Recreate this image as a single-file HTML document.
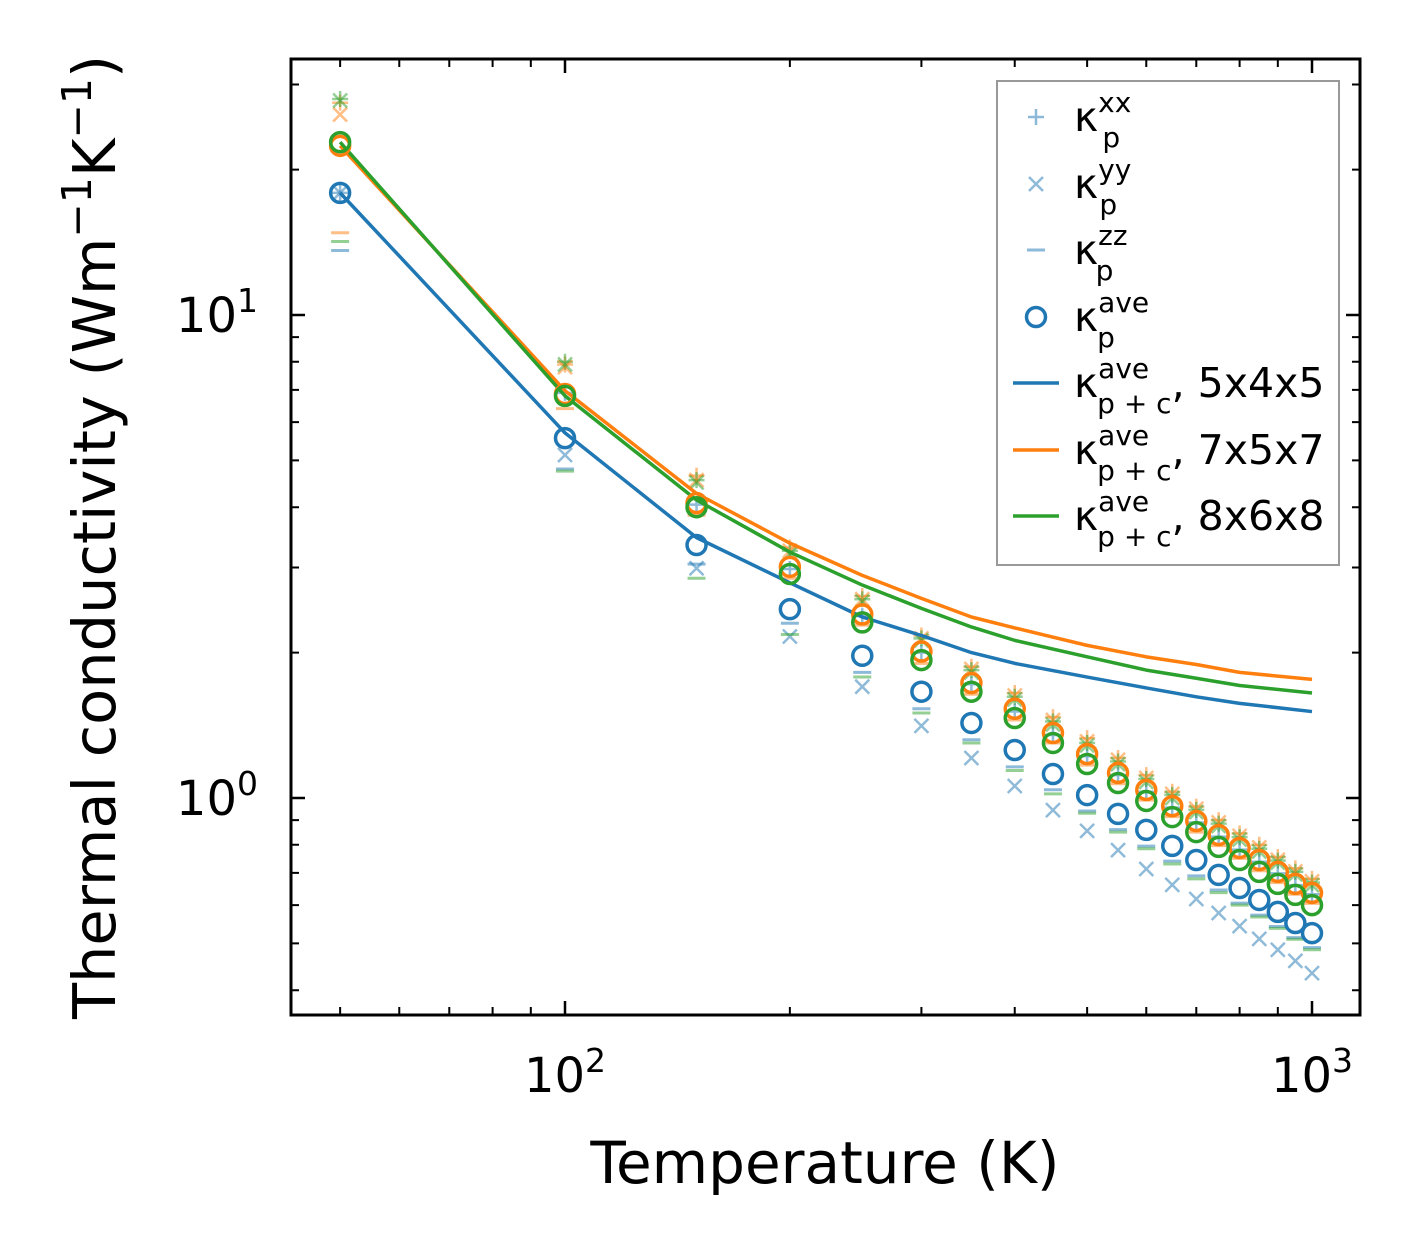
<!DOCTYPE html>
<html><head><meta charset="utf-8"><style>
body{margin:0;background:#fff}
text{font-family:"DejaVu Sans","Liberation Sans",sans-serif}
</style></head><body>
<svg id="c" width="1421" height="1254" viewBox="0 0 1421 1254" xmlns="http://www.w3.org/2000/svg"></svg>
<script>
const temps=[50,100,150,200,250,300,350,400,450,500,550,600,650,700,750,800,850,900,950,1000];
const blueAve=[17.9,5.56,3.34,2.46,1.97,1.66,1.43,1.257,1.121,1.014,0.927,0.859,0.796,0.744,0.693,0.651,0.615,0.581,0.551,0.525];
const orangeAve=[22.4,6.86,4.08,3.01,2.40,2.01,1.73,1.53,1.363,1.233,1.127,1.039,0.962,0.896,0.838,0.788,0.744,0.703,0.664,0.636];
const greenAve=[22.8,6.80,4.00,2.91,2.31,1.93,1.66,1.464,1.30,1.176,1.074,0.986,0.913,0.850,0.792,0.744,0.703,0.664,0.630,0.600];
const blueXX=[17.9,6.9,4.05,2.98,2.38,2.0,1.72,1.51,1.35,1.22,1.115,1.03,0.955,0.89,0.832,0.782,0.738,0.698,0.66,0.632];
const blueYY=[17.9,5.13,2.99,2.16,1.70,1.41,1.21,1.059,0.944,0.855,0.780,0.713,0.661,0.618,0.578,0.543,0.511,0.485,0.460,0.434];
const blueZZ=[13.6,4.8,3.05,2.3,1.82,1.53,1.32,1.16,1.04,0.94,0.86,0.795,0.74,0.69,0.645,0.606,0.572,0.542,0.514,0.49];
const orangeXX=[27.5,7.9,4.65,3.3,2.62,2.17,1.87,1.65,1.47,1.33,1.21,1.115,1.03,0.96,0.9,0.845,0.8,0.755,0.715,0.68];
const orangeYY=[26.0,7.8,4.55,3.25,2.58,2.14,1.85,1.63,1.45,1.31,1.2,1.1,1.02,0.95,0.89,0.835,0.79,0.745,0.705,0.672];
const orangeZZ=[14.8,6.4,3.85,2.85,2.28,1.9,1.64,1.45,1.3,1.17,1.07,0.99,0.915,0.85,0.797,0.75,0.707,0.668,0.632,0.605];
const greenXX=[28.0,8.0,4.55,3.25,2.58,2.14,1.84,1.62,1.44,1.3,1.19,1.095,1.015,0.945,0.885,0.83,0.785,0.742,0.703,0.668];
const greenYY=[27.8,7.9,4.5,3.2,2.55,2.12,1.82,1.6,1.42,1.285,1.175,1.08,1.0,0.935,0.875,0.82,0.775,0.735,0.695,0.66];
const greenZZ=[14.2,4.75,2.85,2.18,1.78,1.5,1.3,1.14,1.02,0.93,0.85,0.785,0.73,0.68,0.637,0.6,0.567,0.537,0.51,0.485];
const lineT=[50,100,150,200,250,300,350,400,500,600,700,800,1000];
const line545=[17.9,5.7,3.46,2.79,2.37,2.17,2.0,1.9,1.78,1.69,1.62,1.57,1.51];
const line757=[22.4,6.97,4.27,3.37,2.89,2.59,2.37,2.25,2.07,1.96,1.89,1.82,1.76];
const line868=[22.8,6.8,4.14,3.23,2.76,2.47,2.26,2.12,1.96,1.84,1.77,1.71,1.65];
const xMajor=[100,1000], yMajor=[1,10];
const xMinor=[50,60,70,80,90,200,300,400,500,600,700,800,900];
const yMinor=[0.4,0.5,0.6,0.7,0.8,0.9,2,3,4,5,6,7,8,9,20,30];

const L=291,R=1360,T=59,B=1015;
const X=v=>565+747*(Math.log10(v)-2);
const Y=v=>798-483*Math.log10(v);
const svg=document.getElementById('c');const NS='http://www.w3.org/2000/svg';
function mk(tag,at,parent){const e=document.createElementNS(NS,tag);for(const k in at)e.setAttribute(k,at[k]);(parent||svg).appendChild(e);return e;}
const C={b:'#1f77b4',o:'#ff7f0e',g:'#2ca02c'};

const clip=mk('clipPath',{id:'pc'});mk('rect',{x:L,y:T,width:R-L,height:B-T},clip);
const plot=mk('g',{'clip-path':'url(#pc)'});



function mark(type,x,y,col,g){
  if(type==='+'){mk('path',{d:`M${x-8} ${y}H${x+8}M${x} ${y-8}V${y+8}`,stroke:col,'stroke-width':2.5,opacity:0.5,fill:'none'},g);}
  else if(type==='x'){mk('path',{d:`M${x-7} ${y-7}L${x+7} ${y+7}M${x-7} ${y+7}L${x+7} ${y-7}`,stroke:col,'stroke-width':2.5,opacity:0.5,fill:'none'},g);}
  else if(type==='_'){mk('path',{d:`M${x-9} ${y}H${x+9}`,stroke:col,'stroke-width':3,opacity:0.5},g);}
  else {mk('circle',{cx:x,cy:y,r:9.5,stroke:col,'stroke-width':3.5,fill:'none'},g);}
}
function series(arr,type,col,name){
  const g=mk('g',{},plot);
  
  
  arr.forEach((v,i)=>mark(type,X(temps[i]),Y(v),col,g));
}
series(blueXX,'+',C.b,'blue-kxx');series(orangeXX,'+',C.o,'orange-kxx');series(greenXX,'+',C.g,'green-kxx');
series(blueYY,'x',C.b,'blue-kyy');series(orangeYY,'x',C.o,'orange-kyy');series(greenYY,'x',C.g,'green-kyy');
series(blueZZ,'_',C.b,'blue-kzz');series(orangeZZ,'_',C.o,'orange-kzz');series(greenZZ,'_',C.g,'green-kzz');
function line(arr,col,name){
  const p=mk('polyline',{points:arr.map((v,i)=>X(lineT[i])+','+Y(v)).join(' '),fill:'none',stroke:col,'stroke-width':3.5,'stroke-linejoin':'round'},plot);
  
  
}
line(line545,C.b,'line-5x4x5');line(line757,C.o,'line-7x5x7');line(line868,C.g,'line-8x6x8');
series(blueAve,'o',C.b,'blue-kave');series(orangeAve,'o',C.o,'orange-kave');series(greenAve,'o',C.g,'green-kave');

const ax=mk('g',{stroke:'#000','stroke-width':2.5});


xMajor.forEach(v=>{const x=X(v);mk('path',{d:`M${x} ${B}v-14M${x} ${T}v14`},ax);});
xMinor.forEach(v=>{const x=X(v);mk('path',{d:`M${x} ${B}v-8M${x} ${T}v8`,'stroke-width':2},ax);});
yMajor.forEach(v=>{const y=Y(v);mk('path',{d:`M${L} ${y}h14M${R} ${y}h-14`},ax);});
yMinor.forEach(v=>{const y=Y(v);mk('path',{d:`M${L} ${y}h8M${R} ${y}h-8`,'stroke-width':2},ax);});
const fr=mk('rect',{x:L,y:T,width:R-L,height:B-T,fill:'none',stroke:'#000','stroke-width':3});



function pw(x,y,exp,anchor,name){
  const t=mk('text',{x:x,y:y,'font-size':48,'text-anchor':anchor});
  
  
  t.innerHTML=`10<tspan dy="-20" font-size="33">${exp}</tspan>`;
}
pw(X(100),1092,'2','middle','x-tick-100');pw(X(1000),1092,'3','middle','x-tick-1000');
pw(258,Y(10)+17,'1','end','y-tick-10');pw(258,Y(1)+17,'0','end','y-tick-1');
</script>
<svg style="position:absolute;left:0;top:0" width="1421" height="1254" xmlns="http://www.w3.org/2000/svg">
<text x="825" y="1183" font-size="58" text-anchor="middle" style="font-family:'DejaVu Sans',sans-serif">Temperature (K)</text>
<text transform="translate(115,537) rotate(-90)" font-size="59" text-anchor="middle" style="font-family:'DejaVu Sans',sans-serif">Thermal conductivity (Wm<tspan dy="-24" font-size="41">−1</tspan><tspan dy="24">K</tspan><tspan dy="-24" font-size="41">−1</tspan><tspan dy="24">)</tspan></text>
<g style="font-family:'DejaVu Sans',sans-serif">
<rect x="997" y="81" width="342" height="484" fill="#fff" stroke="#999" stroke-width="2"/>
<g><path d="M1028 117H1044M1036 109V125" stroke="#1f77b4" stroke-width="2.5" opacity="0.5"/><text x="1074" y="131" font-size="41">κ<tspan dy="-19" font-size="28">xx</tspan><tspan dx="-29" dy="35" font-size="28">p</tspan></text></g>
<g><path d="M1029 177L1043 191M1029 191L1043 177" stroke="#1f77b4" stroke-width="2.5" opacity="0.5"/><text x="1074" y="198" font-size="41">κ<tspan dy="-19" font-size="28">yy</tspan><tspan dx="-32" dy="35" font-size="28">p</tspan></text></g>
<g><path d="M1027 250H1045" stroke="#1f77b4" stroke-width="3" opacity="0.5"/><text x="1074" y="264" font-size="41">κ<tspan dy="-19" font-size="28">zz</tspan><tspan dx="-32" dy="35" font-size="28">p</tspan></text></g>
<g><circle cx="1036" cy="317" r="9.5" fill="none" stroke="#1f77b4" stroke-width="3.5"/><text x="1074" y="331" font-size="41">κ<tspan dy="-19" font-size="28">ave</tspan><tspan dx="-52" dy="35" font-size="28">p</tspan></text></g>
<g><path d="M1013 383H1059" stroke="#1f77b4" stroke-width="3.5"/><text x="1074" y="397" font-size="41">κ<tspan dy="-19" font-size="28">ave</tspan><tspan dx="-52" dy="35" font-size="28">p + c</tspan><tspan dy="-16">, 5x4x5</tspan></text></g>
<g><path d="M1013 450H1059" stroke="#ff7f0e" stroke-width="3.5"/><text x="1074" y="464" font-size="41">κ<tspan dy="-19" font-size="28">ave</tspan><tspan dx="-52" dy="35" font-size="28">p + c</tspan><tspan dy="-16">, 7x5x7</tspan></text></g>
<g><path d="M1013 516H1059" stroke="#2ca02c" stroke-width="3.5"/><text x="1074" y="530" font-size="41">κ<tspan dy="-19" font-size="28">ave</tspan><tspan dx="-52" dy="35" font-size="28">p + c</tspan><tspan dy="-16">, 8x6x8</tspan></text></g>
</g>
</svg>
</body></html>
